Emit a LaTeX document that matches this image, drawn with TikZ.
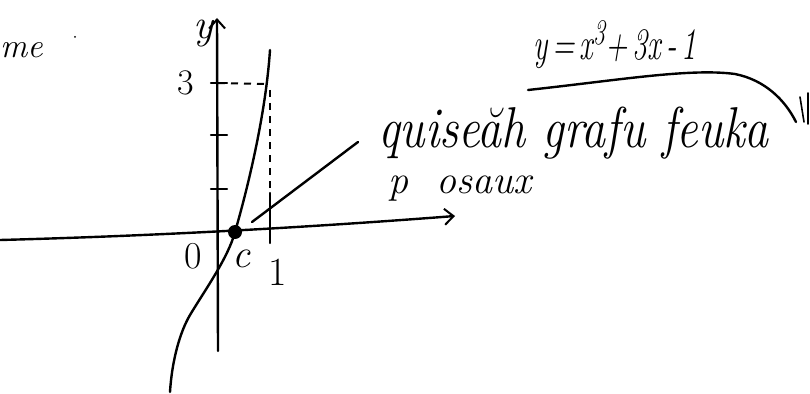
\documentclass[tikz,border=0pt]{standalone}
\usetikzlibrary{arrows.meta}
\begin{document}
\begin{tikzpicture}[x=1pt,y=-1pt,
  ink/.style={line width=2.4pt,line cap=round,line join=round},
  thin ink/.style={line width=1.6pt,line cap=round},
  dashink/.style={line width=2pt,dash pattern=on 7pt off 6pt},
  barb/.style={-{Straight Barb[length=9pt,width=16pt,line width=2pt]}},
  hand/.style={inner sep=0pt,font=\itshape}]
\useasboundingbox (0,0) rectangle (810,393);
% axes
\coordinate (xl) at (0,240);
\coordinate (xr) at (455,216);
\coordinate (yb) at (218,351);
\coordinate (yt) at (217,18);
\draw[ink,barb] (xl) .. controls (150,236) and (300,228) .. (xr);
\draw[ink,barb] (yb) -- (yt);
% ticks on y
\foreach \yy in {83,135,189} \draw[ink] (211,\yy) -- (227,\yy);
% dashed guides
\coordinate (t3) at (218,83);
\coordinate (p3) at (266,84);
\draw[dashink] (t3) -- (p3);
\coordinate (dv1) at (270,90);
\coordinate (dv2) at (270,196);
\draw[dashink] (dv1) -- (dv2);
\coordinate (tk1) at (270,193);
\coordinate (tk2) at (270,243);
\draw[ink] (tk1) -- (tk2);
% curve
\node[circle,fill=black,minimum size=14pt,inner sep=0pt] (c) at (235,232) {};
\coordinate (ctop) at (270,50);
\coordinate (cmid) at (190,315);
\coordinate (cbot) at (170,392);
\draw[ink] (ctop) .. controls (266,110) and (250,180) .. (c.center)
  .. controls (228,258) and (205,290) .. (cmid)
  .. controls (180,332) and (172,360) .. (cbot);
% labels
\node[hand,font=\fontsize{42}{44}\selectfont\itshape] (ly) at (203,34) {y};
\node[hand,font=\fontsize{36}{38}\selectfont] (l3) at (186,83) {3};
\node[hand,font=\fontsize{38}{40}\selectfont] (l0) at (193,256) {0};
\node[hand,font=\fontsize{40}{42}\selectfont\itshape] (lc) at (241,259) {c};
\node[hand,font=\fontsize{40}{42}\selectfont] (l1) at (278,272) {1};
\node[hand,font=\fontsize{34}{36}\selectfont\itshape,anchor=west] (lme) at (0,50) {me};
\node[circle,fill=black,minimum size=2pt,inner sep=0pt] (dot) at (75,37) {};
% equation
\node[hand,font=\fontsize{30}{32}\selectfont\itshape,anchor=base west] (eq) at (533,60) {\scalebox{1}[1.5]{y\,=\,x\raisebox{10pt}{\fontsize{24}{26}\selectfont 3}+\,3x\,-\,1}};
\draw[ink] (528,90) .. controls (620,80) and (690,68) .. (735,74) .. controls (765,80) and (785,100) .. (796,122);
\draw[thin ink] (800,97) -- (804,122);
\draw[thin ink] (808,93) -- (808,124);
% annotation
\node[hand,font=\fontsize{48}{50}\selectfont\itshape,anchor=base west] (ann) at (378,147) {\scalebox{1}[1.2]{quiseăh grafu feuka}};
\node[hand,font=\fontsize{40}{42}\selectfont\itshape,anchor=base west] (ann2) at (388,193) {p\ \ osaux};
\coordinate (pt) at (252,222);
\coordinate (pe) at (358,142);
\draw[ink] (pt) -- (pe);
\end{tikzpicture}
\end{document}
